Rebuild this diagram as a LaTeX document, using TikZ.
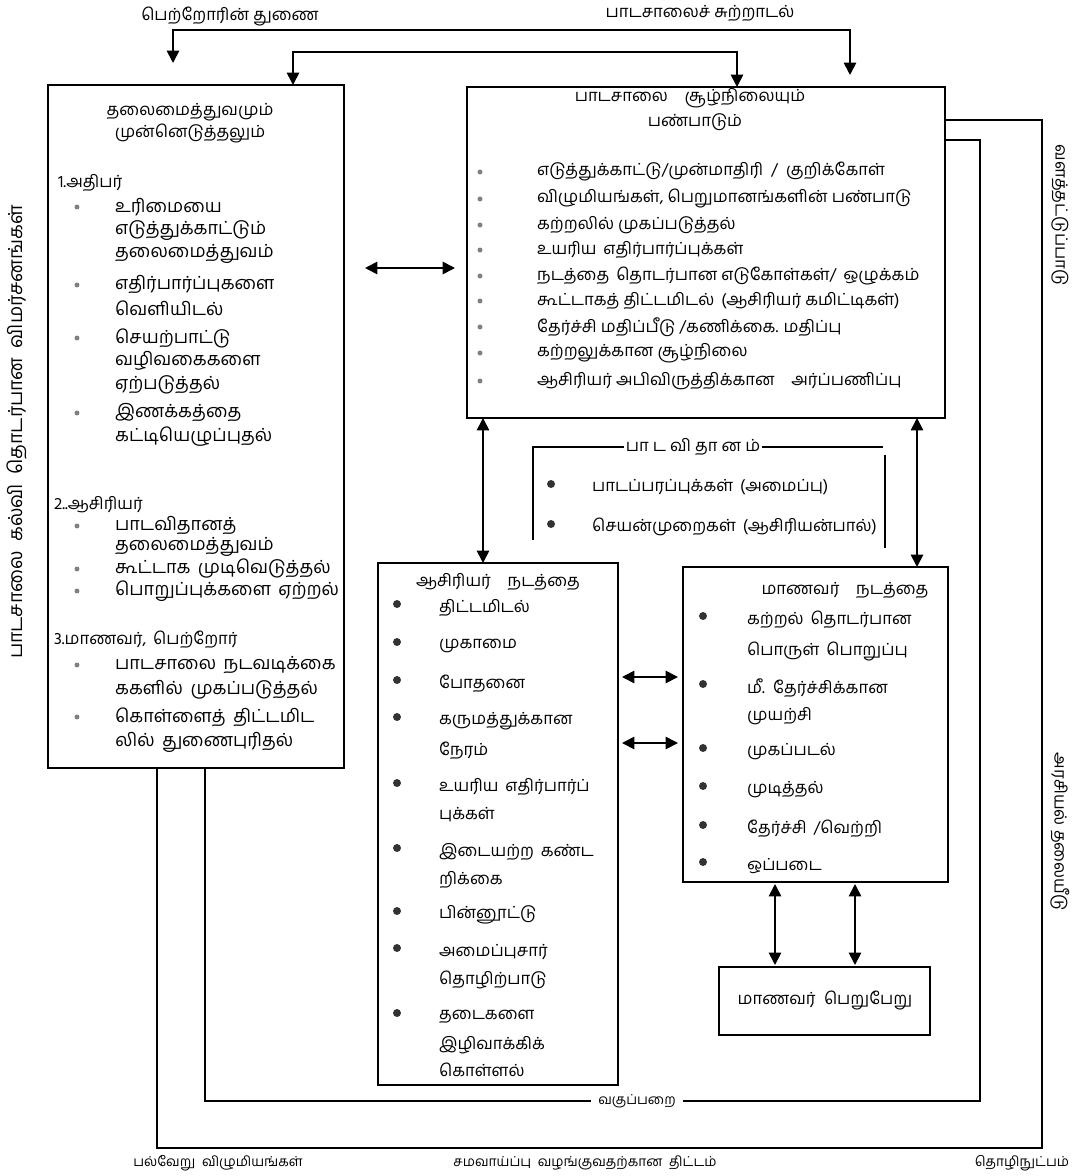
\documentclass[tikz,border=0pt]{standalone}
\usepackage{fontspec}
\setmainfont[Script=Tamil]{Hind Madurai}
\usetikzlibrary{arrows.meta,fit}
\tikzset{
    > = {Triangle[length=7pt,width=7pt]},
    box/.style = {draw, line width=1.2pt, inner sep=0pt},
    link/.style = {line width=1pt},
    txt/.style = {inner sep=1pt, font=\fontsize{9.5}{11}\selectfont},
    lft/.style = {txt, anchor=west},
    big/.style = {lft, font=\fontsize{10.3}{12}\selectfont},
    small/.style = {txt, font=\fontsize{7.8}{9}\selectfont},
    dot/.style = {circle, fill=gray, inner sep=1pt},
    bigdot/.style = {circle, fill=black!80, inner sep=1.6pt}
}
\begin{document}
\begin{tikzpicture}[x=0.02cm, y=-0.02cm]
    \useasboundingbox (0,0) rectangle (1077,1176);

    % boxes
    \node[box, fit={(48,85) (344,768)}] (lead) {};
    \node[box, fit={(467,87) (945,418)}] (culture) {};
    \node[box, fit={(378,563) (618,1085)}] (teacher) {};
    \node[box, fit={(683,567) (948,882)}] (student) {};
    \node[box, fit={(719,967) (930,1035)}] (result) {};

    % top labels and links
    \node[txt] (parent) at (230,17) {பெற்றோரின் துணை};
    \node[txt] (surround) at (700,13) {பாடசாலைச் சுற்றாடல்};
    \coordinate (pa) at (173,63);
    \coordinate (pb) at (850,75);
    \coordinate (ta) at (173,30);
    \draw[link, <->] (pa) -- (ta) -| (pb);
    \coordinate (la) at (293,85);
    \coordinate (lb) at (737,87);
    \coordinate (tb) at (293,52);
    \draw[link, <->] (la) -- (tb) -| (lb);

    % leadership box
    \node[txt] (leadA) at (190,112) {தலைமைத்துவமும்};
    \node[txt] (leadB) at (190,134) {முன்னெடுத்தலும்};
    \node[lft] (head1) at (56,183) {1.அதிபர்};
    \foreach \y in {207,285,338,413}
        \node[dot] at (77,\y) {};
    \foreach \y/\t [count=\i] in {207/உரிமையை, 231/எடுத்துக்காட்டும், 254/தலைமைத்துவம்,
        285/எதிர்பார்ப்புகளை, 308/வெளியிடல், 338/செயற்பாட்டு, 361/வழிவகைகளை,
        385/ஏற்படுத்தல், 413/இணக்கத்தை, 437/கட்டியெழுப்புதல்}
        \node[big] (princ\i) at (113,\y) {\t};
    \node[lft] (head2) at (52,505) {2..ஆசிரியர்};
    \foreach \y in {526,569,591}
        \node[dot] at (77,\y) {};
    \foreach \y/\t [count=\i] in {526/பாடவிதானத், 547/தலைமைத்துவம்,
        569/கூட்டாக\, முடிவெடுத்தல், 591/பொறுப்புக்களை\, ஏற்றல்}
        \node[big] (teach\i) at (113,\y) {\t};
    \node[lft] (head3) at (52,640) {3.மாணவர்,\, பெற்றோர்};
    \foreach \y in {665,717}
        \node[dot] at (77,\y) {};
    \foreach \y/\t [count=\i] in {665/பாடசாலை\, நடவடிக்கை, 690/ககளில்\, முகப்படுத்தல்,
        717/கொள்ளைத்\, திட்டமிட, 742/லில்\, துணைபுரிதல்}
        \node[big] (pare\i) at (113,\y) {\t};

    % school culture box
    \node[txt] (cultA) at (690,98) {பாடசாலை\quad சூழ்நிலையும்};
    \node[txt] (cultB) at (695,122) {பண்பாடும்};
    \foreach \y/\t [count=\i] in {172/{எடுத்துக்காட்டு/முன்மாதிரி\ \ /\ \ குறிக்கோள்},
        199/{விழுமியங்கள், பெறுமானங்களின் பண்பாடு}, 225/கற்றலில் முகப்படுத்தல்,
        250/உயரிய\, எதிர்பார்ப்புக்கள், 276/{நடத்தை\, தொடர்பான எடுகோள்கள்/\, ஒழுக்கம்},
        301/கூட்டாகத் திட்டமிடல்\, (ஆசிரியர் கமிட்டிகள்),
        327/{தேர்ச்சி மதிப்பீடு /கணிக்கை. மதிப்பு},
        353/கற்றலுக்கான சூழ்நிலை, 381/ஆசிரியர் அபிவிருத்திக்கான\quad அர்ப்பணிப்பு} {
        \node[dot] at (480,\y) {};
        \node[lft] (env\i) at (535,\y) {\t};
    }
    \coordinate (ea) at (365,268);
    \coordinate (eb) at (455,268);
    \draw[link, <->] (ea) -- (eb);

    % curriculum
    \node[txt] (curr) at (693,447) {பா ட வி தா ன ம்};
    \coordinate (cl) at (533,540);
    \coordinate (cr) at (883,447);
    \draw[link] (cl) |- (curr.west);
    \draw[link] (curr.east) -- (cr);
    \coordinate (cs) at (885,455);
    \coordinate (ct) at (885,548);
    \draw[link] (cs) -- (ct);
    \node[bigdot] at (551,484) {};
    \node[bigdot] at (551,524) {};
    \node[lft] (scope1) at (590,487) {பாடப்பரப்புக்கள்\, (அமைப்பு)};
    \node[lft] (scope2) at (590,527) {செயன்முறைகள்\, (ஆசிரியன்பால்)};

    % vertical links
    \coordinate (va) at (483,418);
    \coordinate (vb) at (483,563);
    \draw[link, <->] (va) -- (vb);
    \coordinate (vc) at (917,418);
    \coordinate (vd) at (917,567);
    \draw[link, <->] (vc) -- (vd);

    % teacher behaviour
    \node[txt] (tchead) at (498,582) {ஆசிரியர்\quad நடத்தை};
    \foreach \y in {608,646,684,721,787,852,915,952,1017}
        \node[bigdot] at (397,\y-4) {};
    \foreach \y/\t [count=\i] in {608/திட்டமிடல், 646/முகாமை, 684/போதனை,
        721/கருமத்துக்கான, 751/நேரம், 787/உயரிய\, எதிர்பார்ப், 815/புக்கள்,
        852/இடையற்ற\, கண்ட, 880/றிக்கை, 915/பின்னூட்டு, 952/அமைப்புசார்,
        980/தொழிற்பாடு, 1017/தடைகளை, 1045/இழிவாக்கிக், 1070/கொள்ளல்}
        \node[lft] (tact\i) at (437,\y) {\t};

    % student behaviour
    \node[txt] (sthead) at (845,590) {மாணவர்\quad நடத்தை};
    \foreach \y in {620,688,752,790,829,866}
        \node[bigdot] at (703,\y-4) {};
    \foreach \y/\t [count=\i] in {620/கற்றல்\, தொடர்பான, 652/பொருள்\, பொறுப்பு,
        688/மீ.\, தேர்ச்சிக்கான, 716/முயற்சி, 752/முகப்படல், 790/முடித்தல்,
        829/{தேர்ச்சி\, /வெற்றி}, 866/ஒப்படை}
        \node[lft] (sact\i) at (745,\y) {\t};

    \coordinate (ha) at (622,677);
    \coordinate (hb) at (678,677);
    \draw[link, <->] (ha) -- (hb);
    \coordinate (hc) at (622,743);
    \coordinate (hd) at (678,743);
    \draw[link, <->] (hc) -- (hd);

    % result
    \node[txt] (res) at (825,1001) {மாணவர்\enspace பெறுபேறு};
    \coordinate (ra) at (775,884);
    \coordinate (rb) at (775,965);
    \draw[link, <->] (ra) -- (rb);
    \coordinate (rc) at (855,884);
    \coordinate (rd) at (855,965);
    \draw[link, <->] (rc) -- (rd);

    % outer loops
    \node[small, inner xsep=4pt] (room) at (637,1101) {வகுப்பறை};
    \coordinate (ia) at (205,768);
    \coordinate (ib) at (980,140);
    \coordinate (ic) at (945,140);
    \draw[link] (ia) |- (room.west);
    \draw[link] (room.east) -| (ib) -- (ic);
    \coordinate (oa) at (157,768);
    \coordinate (ob) at (1042,1148);
    \coordinate (oc) at (1042,120);
    \coordinate (od) at (945,120);
    \draw[link] (oa) |- (ob) -- (oc) -- (od);

    % side and bottom labels
    \node[txt, font=\fontsize{11}{13}\selectfont, rotate=90] (critic) at (17,432)
        {பாடசாலை\ \ கல்வி\ \ தொடர்பான\ \ விமர்சனங்கள்};
    \node[txt, rotate=-90] (lack) at (1060,215) {வளத்தட்டுப்பாடு};
    \node[txt, rotate=-90] (polit) at (1060,832) {அரசியல் தலையீடு};
    \node[small] (values) at (218,1163) {பல்வேறு\ \ விழுமியங்கள்};
    \node[small] (equal) at (585,1163) {சமவாய்ப்பு\ \ வழங்குவதற்கான\ \ திட்டம்};
    \node[small] (tech) at (1022,1163) {தொழிநுட்பம்};
\end{tikzpicture}
\end{document}
